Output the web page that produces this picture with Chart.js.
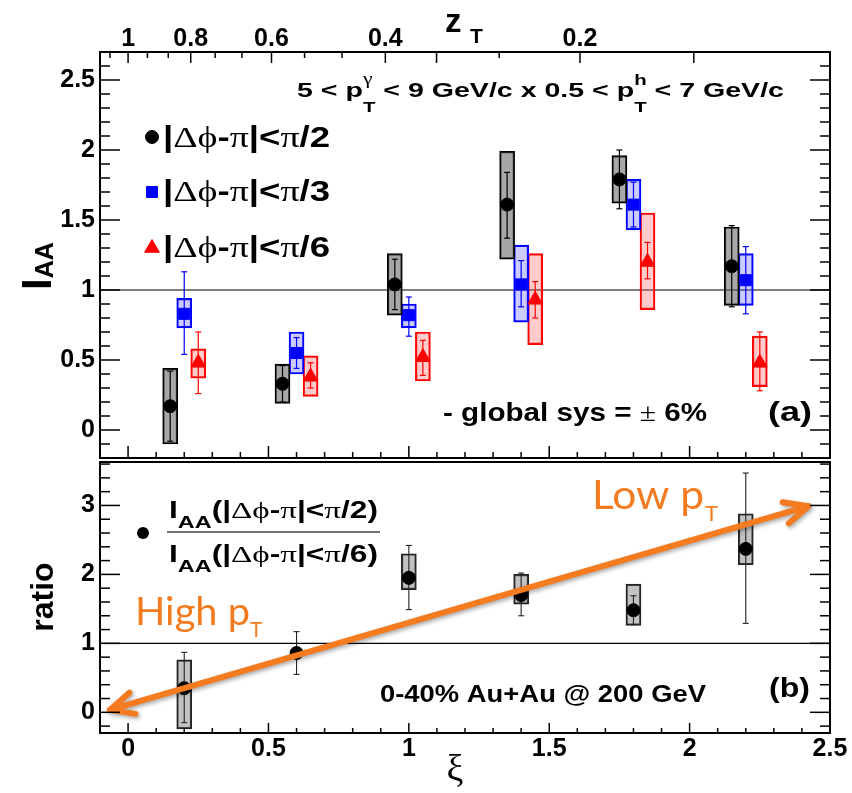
<!DOCTYPE html>
<html><head><meta charset="utf-8">
<script src="https://cdn.jsdelivr.net/npm/chart.js@4.4.1/dist/chart.umd.min.js"></script>
<style>
html,body{margin:0;padding:0;background:#fff;width:852px;height:793px;overflow:hidden}
#c1{position:absolute;left:0;top:0}
#c2{position:absolute;left:0;top:460px}
</style></head><body>
<canvas id="c1" width="852" height="460"></canvas>
<canvas id="c2" width="852" height="333"></canvas>
<script>
// ---------------- DATA ----------------
// Panel (a): I_AA vs xi for three delta-phi windows
const xiBlack   = [0.15, 0.55, 0.95, 1.35, 1.75, 2.15];
const iaaBlack  = [0.17, 0.33, 1.04, 1.61, 1.79, 1.17];
const statBlackLo = [-0.08, 0.20, 0.86, 1.37, 1.58, 0.88];
const statBlackHi = [0.42, 0.46, 1.22, 1.84, 2.00, 1.46];
const sysBlackLo  = [-0.10, 0.19, 0.82, 1.22, 1.62, 0.89];
const sysBlackHi  = [0.44, 0.47, 1.26, 1.99, 1.96, 1.45];

const xiBlue    = [0.20, 0.60, 1.00, 1.40, 1.80, 2.20];
const iaaBlue   = [0.83, 0.55, 0.82, 1.04, 1.61, 1.07];
const statBlueLo = [0.54, 0.44, 0.67, 0.88, 1.45, 0.83];
const statBlueHi = [1.13, 0.66, 0.95, 1.21, 1.77, 1.31];
const sysBlueLo  = [0.73, 0.40, 0.73, 0.77, 1.43, 0.89];
const sysBlueHi  = [0.94, 0.70, 0.90, 1.32, 1.79, 1.26];

const xiRed     = [0.25, 0.65, 1.05, 1.45, 1.85, 2.25];
const iaaRed    = [0.48, 0.38, 0.52, 0.93, 1.20, 0.48];
const statRedLo = [0.26, 0.30, 0.39, 0.80, 1.08, 0.28];
const statRedHi = [0.70, 0.48, 0.64, 1.06, 1.34, 0.70];
const sysRedLo  = [0.37, 0.24, 0.35, 0.61, 0.86, 0.31];
const sysRedHi  = [0.58, 0.53, 0.70, 1.26, 1.55, 0.67];

// Panel (b): ratio
const xiRatio     = [0.20, 0.60, 1.00, 1.40, 1.80, 2.20];
const ratioVal    = [0.35, 0.86, 1.95, 1.70, 1.48, 2.37];
const ratioStatLo = [-0.15, 0.55, 1.49, 1.40, 1.27, 1.29];
const ratioStatHi = [0.87, 1.17, 2.42, 2.02, 1.69, 3.47];
const ratioSysLo  = [-0.24, null, 1.78, 1.57, 1.26, 2.14];
const ratioSysHi  = [0.76, null, 2.30, 2.00, 1.86, 2.88];

// Orange annotation arrow (data coords of its two tips)
const arrowXi    = [-0.065, 2.423];
const arrowRatio = [0.035, 2.99];

// Axis ticks
const xTickValues = [0, 0.5, 1, 1.5, 2, 2.5];
const xTickLabels = ['0', '0.5', '1', '1.5', '2', '2.5'];
const iaaTickValues = [0, 0.5, 1, 1.5, 2, 2.5];
const iaaTickLabels = ['0', '0.5', '1', '1.5', '2', '2.5'];
const ratioTickValues = [0, 1, 2, 3];
const ratioTickLabels = ['0', '1', '2', '3'];
const zTLabelValues = [1, 0.8, 0.6, 0.4, 0.2];
const zTLabels = ['1', '0.8', '0.6', '0.4', '0.2'];
const zTAllTicks = [16/15, 1, 14/15, 13/15, 0.8, 11/15, 10/15, 0.6, 8/15, 7/15, 0.4, 1/3, 4/15, 0.2, 2/15];
const zTLongTicks = [1, 0.8, 0.6, 0.4, 1/3, 0.2, 2/15];

// ---------------- helpers ----------------
const SANS = "'Liberation Sans', Arial, Helvetica, sans-serif";
const SERIF = "'Liberation Serif', 'DejaVu Serif', serif";
const LATO = "Lato, 'Open Sans', sans-serif";
function fnt(size, bold, fam) { return (bold ? 'bold ' : '') + size + 'px ' + (fam || SANS); }
const xiOf = z => Math.log(1 / z);

function measureParts(ctx, parts) {
  let w = 0;
  for (const p of parts) {
    if (p.stack) {
      let m = 0;
      for (const s of p.stack) { ctx.font = s.f; m = Math.max(m, ctx.measureText(s.t).width); }
      p._w = m;
    } else { ctx.font = p.f; p._w = ctx.measureText(p.t).width; }
    w += p._w;
  }
  return w;
}
function drawRich(ctx, x, y, parts, o) {
  o = o || {};
  ctx.save();
  const w = measureParts(ctx, parts);
  const tw = o.width || w;
  const sx = tw / w;
  let x0 = x;
  if (o.align === 'center') x0 = x - tw / 2; else if (o.align === 'right') x0 = x - tw;
  ctx.translate(x0, y); ctx.scale(sx, 1);
  ctx.fillStyle = o.color || '#000'; ctx.textBaseline = 'alphabetic'; ctx.textAlign = 'left';
  let cx = 0;
  for (const p of parts) {
    if (p.stack) { for (const s of p.stack) { ctx.font = s.f; ctx.fillText(s.t, cx, s.dy || 0); } }
    else { ctx.font = p.f; ctx.fillText(p.t, cx, p.dy || 0); }
    cx += p._w;
  }
  ctx.restore();
}
function dphiParts(size, tail) {
  const b = fnt(size, true), s = fnt(size + 1, false, SERIF);
  return [{t:'|',f:b},{t:'\u0394',f:s},{t:'\u03D5',f:s},{t:'-',f:b},{t:'\u03C0',f:s},{t:'|<',f:b},{t:'\u03C0',f:s},{t:tail,f:b}];
}
function tickLine(ctx, x1, y1, x2, y2) { ctx.beginPath(); ctx.moveTo(x1, y1); ctx.lineTo(x2, y2); ctx.stroke(); }

// frame + inward ticks, ROOT style
function drawFrame(chart, c) {
  const ctx = chart.ctx, a = chart.chartArea, xs = chart.scales.x, ys = chart.scales.y;
  ctx.save();
  ctx.strokeStyle = '#000'; ctx.lineWidth = 1.5;
  const n0 = Math.ceil(ys.min / c.yMinor - 1e-6), n1 = Math.floor(ys.max / c.yMinor + 1e-6);
  for (let k = n0; k <= n1; k++) {
    const v = k * c.yMinor, py = ys.getPixelForValue(v);
    const r = v / c.yMajor, major = Math.abs(r - Math.round(r)) < 1e-6;
    const L = major ? c.yMajLen : c.yMinLen;
    tickLine(ctx, a.left, py, a.left + L, py);
    tickLine(ctx, a.right, py, a.right - L, py);
  }
  const m0 = Math.ceil(xs.min / 0.1 - 1e-6), m1 = Math.floor(xs.max / 0.1 + 1e-6);
  for (let k = m0; k <= m1; k++) {
    const v = k * 0.1, px = xs.getPixelForValue(v);
    const r = v / 0.5, major = Math.abs(r - Math.round(r)) < 1e-6;
    const L = major ? c.xMajLen : c.xMinLen;
    tickLine(ctx, px, a.bottom, px, a.bottom - L);
  }
  if (c.zTop) {
    for (const z of zTAllTicks) {
      const px = xs.getPixelForValue(xiOf(z));
      const long = zTLongTicks.some(q => Math.abs(q - z) < 1e-6);
      tickLine(ctx, px, a.top, px, a.top + (long ? 11 : 6));
    }
  }
  ctx.lineWidth = 2;
  ctx.strokeRect(a.left, a.top, a.right - a.left, a.bottom - a.top);
  ctx.restore();
}

// error bars drawn under each scatter dataset
const errorBarPlugin = {
  id: 'errbars',
  beforeDatasetDraw(chart, args) {
    const ds = chart.data.datasets[args.index];
    if (!ds.errLo) return;
    const ctx = chart.ctx, ys = chart.scales.y, meta = args.meta;
    ctx.save();
    ctx.strokeStyle = ds.errColor; ctx.lineWidth = ds.errWidth || 1.2;
    meta.data.forEach((el, i) => {
      const x = el.x, yl = ys.getPixelForValue(ds.errLo[i]), yh = ys.getPixelForValue(ds.errHi[i]);
      tickLine(ctx, x, yl, x, yh);
      tickLine(ctx, x - 3, yl, x + 3, yl);
      tickLine(ctx, x - 3, yh, x + 3, yh);
    });
    ctx.restore();
  }
};

const boxes = (xs, lo, hi) => xs.map((x, i) => ({x: x, y: [lo[i], hi[i]]})).filter(d => d.y[0] !== null);
const pts = (xs, ys) => xs.map((x, i) => ({x: x, y: ys[i]}));
const tickFont = {family: SANS, size: 25, weight: 'bold', lineHeight: 1};
function boxDs(data, bg, bd) {
  return {type: 'bar', data: data, backgroundColor: bg, borderColor: bd, borderWidth: 1.5, borderSkipped: false,
          grouped: false, barThickness: 15, maxBarThickness: 15, order: 10};
}
function fixedTicks(values, labels, pad) {
  return {
    afterBuildTicks: s => { s.ticks = values.map(v => ({value: v})); },
    ticks: {font: tickFont, color: '#000', padding: pad, autoSkip: false, maxRotation: 0,
      callback: (v) => { const i = values.findIndex(q => Math.abs(q - v) < 1e-9); return i >= 0 ? labels[i] : ''; }}
  };
}
function fitW(w) { return s => { s.width = w; s.paddingTop = 0; s.paddingBottom = 0; s.paddingLeft = 0; s.paddingRight = 0; }; }
function fitH(h) { return s => { s.height = h; s.paddingTop = 0; s.paddingBottom = 0; s.paddingLeft = 0; s.paddingRight = 0; }; }

// ---------------- TOP PANEL ----------------
const topPlugin = {
  id: 'topdeco',
  afterDraw(chart) {
    const ctx = chart.ctx;
    drawFrame(chart, {yMinor: 0.1, yMajor: 0.5, yMajLen: 20, yMinLen: 10, xMajLen: 12, xMinLen: 6, zTop: true});
    // z_T title
    drawRich(ctx, 445, 32, [{t: 'z', f: fnt(33, true)}]);
    drawRich(ctx, 470, 43, [{t: 'T', f: fnt(21, true)}]);
    // kinematic range
    const b21 = fnt(21, true), s15 = fnt(15, true), g15 = fnt(16, false, SERIF);
    drawRich(ctx, 297, 97, [
      {t: '5 < p', f: b21},
      {stack: [{t: '\u03B3', f: g15, dy: -13}, {t: 'T', f: s15, dy: 15}]},
      {t: ' < 9 GeV/c x 0.5 < p', f: b21},
      {stack: [{t: 'h', f: s15, dy: -12}, {t: 'T', f: s15, dy: 15}]},
      {t: ' < 7 GeV/c', f: b21}
    ], {width: 487});
    // legend
    const lx = 152;
    const mk = [
      {style: 'circle', r: 6.5, col: '#000', y: 137, tail: '/2', base: 147},
      {style: 'rect', r: 7.8, col: '#0000ff', y: 192, tail: '/3', base: 201},
      {style: 'triangle', r: 8.5, col: '#ff0000', y: 248, tail: '/6', base: 257}
    ];
    for (const m of mk) {
      ctx.save(); ctx.fillStyle = m.col; ctx.strokeStyle = m.col; ctx.lineWidth = 1;
      Chart.helpers.drawPoint(ctx, {pointStyle: m.style, radius: m.r, rotation: 0, borderWidth: 1}, lx, m.y);
      ctx.restore();
      drawRich(ctx, 163, m.base, dphiParts(29, m.tail), {width: 167});
    }
    // global sys
    drawRich(ctx, 443, 421, [{t: '- global sys = ', f: fnt(25, true)}, {t: '\u00B1', f: fnt(25, false, SERIF)}, {t: ' 6%', f: fnt(25, true)}], {width: 264});
    drawRich(ctx, 768, 421, [{t: '(a)', f: fnt(27, true)}], {width: 44});
    // y title
    ctx.save(); ctx.translate(51, 290); ctx.rotate(-Math.PI / 2);
    drawRich(ctx, 0, 0, [{t: 'I', f: fnt(42, true)}, {t: 'AA', f: fnt(25, true), dy: 2}]);
    ctx.restore();
  }
};

new Chart(document.getElementById('c1'), {
  type: 'scatter',
  data: {
    datasets: [
      {type: 'line', data: [{x: -0.1, y: 1}, {x: 2.5, y: 1}], borderColor: '#000', borderWidth: 1.2, pointRadius: 0, order: 20},
      boxDs(boxes(xiBlack, sysBlackLo, sysBlackHi), 'rgba(95,95,95,0.55)', '#000'),
      boxDs(boxes(xiBlue, sysBlueLo, sysBlueHi), 'rgba(70,70,255,0.28)', '#0000ff'),
      boxDs(boxes(xiRed, sysRedLo, sysRedHi), 'rgba(255,70,70,0.28)', '#ff0000'),
      {data: pts(xiBlack, iaaBlack), pointStyle: 'circle', pointRadius: 6.5, backgroundColor: '#000', borderColor: '#000', borderWidth: 1,
       errLo: statBlackLo, errHi: statBlackHi, errColor: '#000', order: 3},
      {data: pts(xiBlue, iaaBlue), pointStyle: 'rect', pointRadius: 7.8, backgroundColor: '#0000ff', borderColor: '#0000ff', borderWidth: 1,
       errLo: statBlueLo, errHi: statBlueHi, errColor: '#0000ff', order: 2},
      {data: pts(xiRed, iaaRed), pointStyle: 'triangle', pointRadius: 8.5, backgroundColor: '#ff0000', borderColor: '#ff0000', borderWidth: 1,
       errLo: statRedLo, errHi: statRedHi, errColor: '#ff0000', order: 1}
    ]
  },
  options: {
    responsive: false, animation: false, devicePixelRatio: 1,
    layout: {autoPadding: false, padding: {left: 0, right: 22, top: 0, bottom: 2}},
    plugins: {legend: {display: false}, tooltip: {enabled: false}},
    scales: {
      x: {type: 'linear', min: -0.1, max: 2.5, display: false, offset: false},
      xTop: Object.assign({type: 'linear', position: 'top', min: -0.1, max: 2.5, offset: false,
        grid: {display: false, drawTicks: false}, border: {display: false},
        afterFit: fitH(52)}, fixedTicks(zTLabelValues.map(xiOf), zTLabels, 0)),
      y: Object.assign({type: 'linear', min: -0.2, max: 2.7, stacked: false,
        grid: {display: false, drawTicks: false}, border: {display: false},
        afterFit: fitW(100)}, fixedTicks(iaaTickValues, iaaTickLabels, 5))
    }
  },
  plugins: [errorBarPlugin, topPlugin]
});

// ---------------- BOTTOM PANEL ----------------
const OFF = 460;
const botPlugin = {
  id: 'botdeco',
  afterDatasetsDraw(chart) {
    const ctx = chart.ctx, xs = chart.scales.x, ys = chart.scales.y;
    const x1 = xs.getPixelForValue(arrowXi[0]), y1 = ys.getPixelForValue(arrowRatio[0]);
    const x2 = xs.getPixelForValue(arrowXi[1]), y2 = ys.getPixelForValue(arrowRatio[1]);
    ctx.save();
    ctx.strokeStyle = '#f47b20'; ctx.lineWidth = 6; ctx.lineCap = 'round'; ctx.lineJoin = 'round';
    ctx.shadowColor = 'rgba(0,0,0,0.35)'; ctx.shadowBlur = 4; ctx.shadowOffsetX = 1.5; ctx.shadowOffsetY = 2;
    const ang = Math.atan2(y2 - y1, x2 - x1), L = 26, h = 25 * Math.PI / 180;
    ctx.beginPath();
    ctx.moveTo(x1, y1); ctx.lineTo(x2, y2);
    ctx.moveTo(x2 - L * Math.cos(ang - h), y2 - L * Math.sin(ang - h)); ctx.lineTo(x2, y2);
    ctx.lineTo(x2 - L * Math.cos(ang + h), y2 - L * Math.sin(ang + h));
    ctx.moveTo(x1 + L * Math.cos(ang - h), y1 + L * Math.sin(ang - h)); ctx.lineTo(x1, y1);
    ctx.lineTo(x1 + L * Math.cos(ang + h), y1 + L * Math.sin(ang + h));
    ctx.stroke();
    ctx.restore();
  },
  afterDraw(chart) {
    const ctx = chart.ctx;
    drawFrame(chart, {yMinor: 0.2, yMajor: 1, yMajLen: 20, yMinLen: 10, xMajLen: 10, xMinLen: 5, zTop: false});
    // legend (fraction)
    ctx.save(); ctx.fillStyle = '#000';
    Chart.helpers.drawPoint(ctx, {pointStyle: 'circle', radius: 6, rotation: 0, borderWidth: 0}, 143, 533 - OFF);
    ctx.restore();
    const b23 = fnt(23, true), b17 = fnt(17, true);
    const frac = tail => [{t: 'I', f: b23}, {t: 'AA', f: b17, dy: 10}, {t: '(', f: b23}].concat(dphiParts(23, tail), [{t: ')', f: b23}]);
    drawRich(ctx, 169, 518 - OFF, frac('/2'), {width: 209});
    drawRich(ctx, 169, 562 - OFF, frac('/6'), {width: 209});
    ctx.save(); ctx.strokeStyle = '#444'; ctx.lineWidth = 1.5;
    tickLine(ctx, 167, 532 - OFF, 380, 532 - OFF); ctx.restore();
    // labels
    drawRich(ctx, 380, 702 - OFF, [{t: '0-40% Au+Au @ 200 GeV', f: fnt(23, true)}], {width: 326});
    drawRich(ctx, 769, 697 - OFF, [{t: '(b)', f: fnt(27, true)}], {width: 41});
    // orange labels
    const o = '#f47b20';
    drawRich(ctx, 592, 509 - OFF, [{t: 'Low p', f: fnt(40, false, LATO)}], {width: 112, color: o});
    drawRich(ctx, 705, 521 - OFF, [{t: 'T', f: fnt(22, false, LATO)}], {color: o});
    drawRich(ctx, 135, 625 - OFF, [{t: 'High p', f: fnt(38, false, LATO)}], {width: 115, color: o});
    drawRich(ctx, 250, 637 - OFF, [{t: 'T', f: fnt(21, false, LATO)}], {color: o});
    // axis titles
    ctx.save(); ctx.translate(53, 597 - OFF); ctx.rotate(-Math.PI / 2);
    drawRich(ctx, 0, 0, [{t: 'ratio', f: fnt(32, true)}], {align: 'center'});
    ctx.restore();
    drawRich(ctx, 455, 781 - OFF, [{t: '\u03BE', f: fnt(38, false, SERIF)}], {align: 'center'});
  }
};

new Chart(document.getElementById('c2'), {
  type: 'scatter',
  data: {
    datasets: [
      {type: 'line', data: [{x: -0.1, y: 1}, {x: 2.5, y: 1}], borderColor: '#000', borderWidth: 1.2, pointRadius: 0, order: 20},
      boxDs(boxes(xiRatio, ratioSysLo, ratioSysHi), 'rgba(120,120,120,0.45)', '#222'),
      {data: pts(xiRatio, ratioVal), pointStyle: 'circle', pointRadius: 6.5, backgroundColor: '#000', borderColor: '#000', borderWidth: 1,
       errLo: ratioStatLo, errHi: ratioStatHi, errColor: '#222', errWidth: 1.1, order: 1}
    ]
  },
  options: {
    responsive: false, animation: false, devicePixelRatio: 1,
    layout: {autoPadding: false, padding: {left: 0, right: 22, top: 2, bottom: 0}},
    plugins: {legend: {display: false}, tooltip: {enabled: false}},
    scales: {
      x: Object.assign({type: 'linear', min: -0.1, max: 2.5, offset: false,
        grid: {display: false, drawTicks: false}, border: {display: false},
        afterFit: fitH(60)}, fixedTicks(xTickValues, xTickLabels, 3.5)),
      y: Object.assign({type: 'linear', min: -0.3, max: 3.63, stacked: false,
        grid: {display: false, drawTicks: false}, border: {display: false},
        afterFit: fitW(100)}, fixedTicks(ratioTickValues, ratioTickLabels, 5))
    }
  },
  plugins: [errorBarPlugin, botPlugin]
});
</script>
</body></html>
